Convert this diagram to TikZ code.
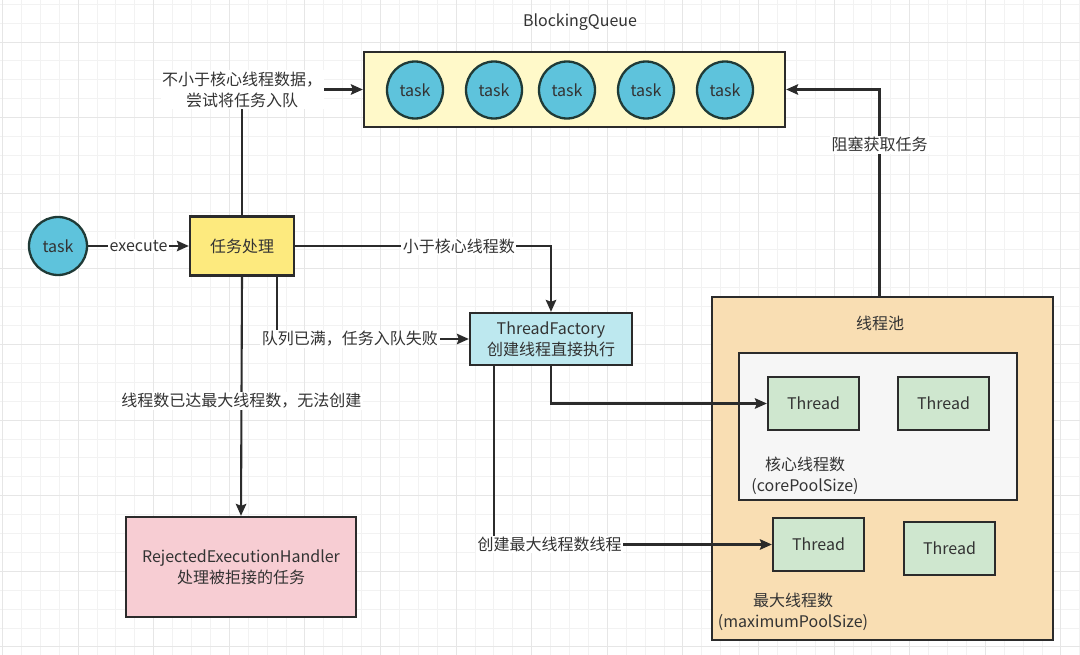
\documentclass[tikz,border=0pt]{standalone}
\usepackage{fontspec}
\setmainfont{Noto Sans CJK SC}
\usetikzlibrary{arrows.meta,calc,shapes.geometric}
\definecolor{ink}{HTML}{2B2B2B}
\definecolor{txt}{HTML}{333333}
\definecolor{taskfill}{HTML}{5EC3DC}
\definecolor{taskline}{HTML}{1F3A36}
\definecolor{queuefill}{HTML}{FFF9C9}
\definecolor{procfill}{HTML}{FDEA7E}
\definecolor{tffill}{HTML}{BDE8EF}
\definecolor{rejfill}{HTML}{F7CDD3}
\definecolor{poolfill}{HTML}{F9DEB3}
\definecolor{corefill}{HTML}{F6F6F6}
\definecolor{thfill}{HTML}{CFE7CF}
\definecolor{gridminor}{HTML}{F2F2F2}
\definecolor{gridmajor}{HTML}{E6E6E6}
\begin{document}
\begin{tikzpicture}[x=1pt,y=-1pt,
  font=\fontsize{16}{21}\selectfont,
  box/.style={draw=ink, line width=2.3pt, text=txt, align=center, inner sep=0pt},
  tk/.style={box, ellipse, draw=taskline, fill=taskfill, minimum width=56pt, minimum height=57pt},
  thr/.style={box, fill=thfill, minimum width=91pt, minimum height=53pt},
  arr/.style={draw=ink, line width=2.1pt, -{Stealth[length=12pt,width=10.5pt,inset=2pt]}},
  lbl/.style={fill=white, inner sep=1.5pt, text=txt, align=center},
  plain/.style={text=txt, align=center, inner sep=0pt}]
\useasboundingbox (0,0) rectangle (1080,655);
% background grid
\fill[white] (0,0) rectangle (1080,655);
\foreach \i in {0,...,58} {\draw[gridminor, line width=0.8pt] ({2.4+\i*18.9},0) -- ({2.4+\i*18.9},655);}
\foreach \i in {-2,...,36} {\draw[gridminor, line width=0.8pt] (0,{4.2+\i*18.9}) -- (1080,{4.2+\i*18.9});}
\foreach \i in {0,...,14} {\draw[gridmajor, line width=0.9pt] ({2.4+\i*75.6},0) -- ({2.4+\i*75.6},655);}
\foreach \i in {0,...,9} {\draw[gridmajor, line width=0.9pt] (0,{-33.6+\i*75.6}) -- (1080,{-33.6+\i*75.6});}

% blocking queue
\node[plain] (bqt) at (580,22) {BlockingQueue};
\node[box, fill=queuefill, minimum width=421pt, minimum height=75pt] (queue) at (574.5,89.5) {};
\node[tk] (q1) at (415,90) {task};
\node[tk] (q2) at (494,90) {task};
\node[tk] (q3) at (567,90) {task};
\node[tk] (q4) at (646,90) {task};
\node[tk] (q5) at (725,90) {task};

% left side
\node[tk, minimum width=58pt, minimum height=58pt] (t0) at (58,246) {task};
\node[box, fill=procfill, minimum width=104pt, minimum height=59pt] (proc) at (242,246) {任务处理};
\node[box, fill=tffill, minimum width=162pt, minimum height=52pt] (tf) at (551,339) {ThreadFactory\\创建线程直接执行};
\node[box, fill=rejfill, minimum width=230pt, minimum height=100pt] (rej) at (241,567) {RejectedExecutionHandler\\处理被拒接的任务};

% thread pool
\node[box, fill=poolfill, minimum width=341pt, minimum height=343pt] (pool) at (882.5,468.5) {};
\node[plain] (pooltitle) at (880,323) {线程池};
\node[box, fill=corefill, line width=2pt, minimum width=278pt, minimum height=147pt] (core) at (878,426.5) {};
\node[thr] (th1) at (813.5,403.5) {Thread};
\node[thr] (th2) at (943.5,403.5) {Thread};
\node[plain] (corelbl) at (805,476) {核心线程数\\(corePoolSize)};
\node[thr] (th3) at (818.5,544.5) {Thread};
\node[thr] (th4) at (949.5,548.5) {Thread};
\node[plain] (maxlbl) at (793,612) {最大线程数\\(maximumPoolSize)};

% connectors
\draw[arr] (t0) -- node[lbl] {execute} (proc);
\draw[arr] (proc.north) |- node[lbl, pos=0.5] {不小于核心线程数据，\\尝试将任务入队} (queue.west);
\draw[arr] (proc.east) -| node[lbl, pos=0.32] {小于核心线程数} (tf.north);
\draw[arr] ([xshift=-18pt]proc.south east) |- node[lbl, pos=0.69] {队列已满，任务入队失败} (tf.west);
\draw[arr] (proc.south) -- node[lbl, pos=0.52] {线程数已达最大线程数，无法创建} (rej.north);
\draw[arr] (tf.south) |- (th1.west);
\draw[arr] ([xshift=-57pt]tf.south) |- node[lbl, pos=0.6] {创建最大线程数线程} (th3.west);
\draw[arr] ([xshift=-3pt]pool.north) |- node[lbl, pos=0.366] {阻塞获取任务} (queue.east);
\end{tikzpicture}
\end{document}
